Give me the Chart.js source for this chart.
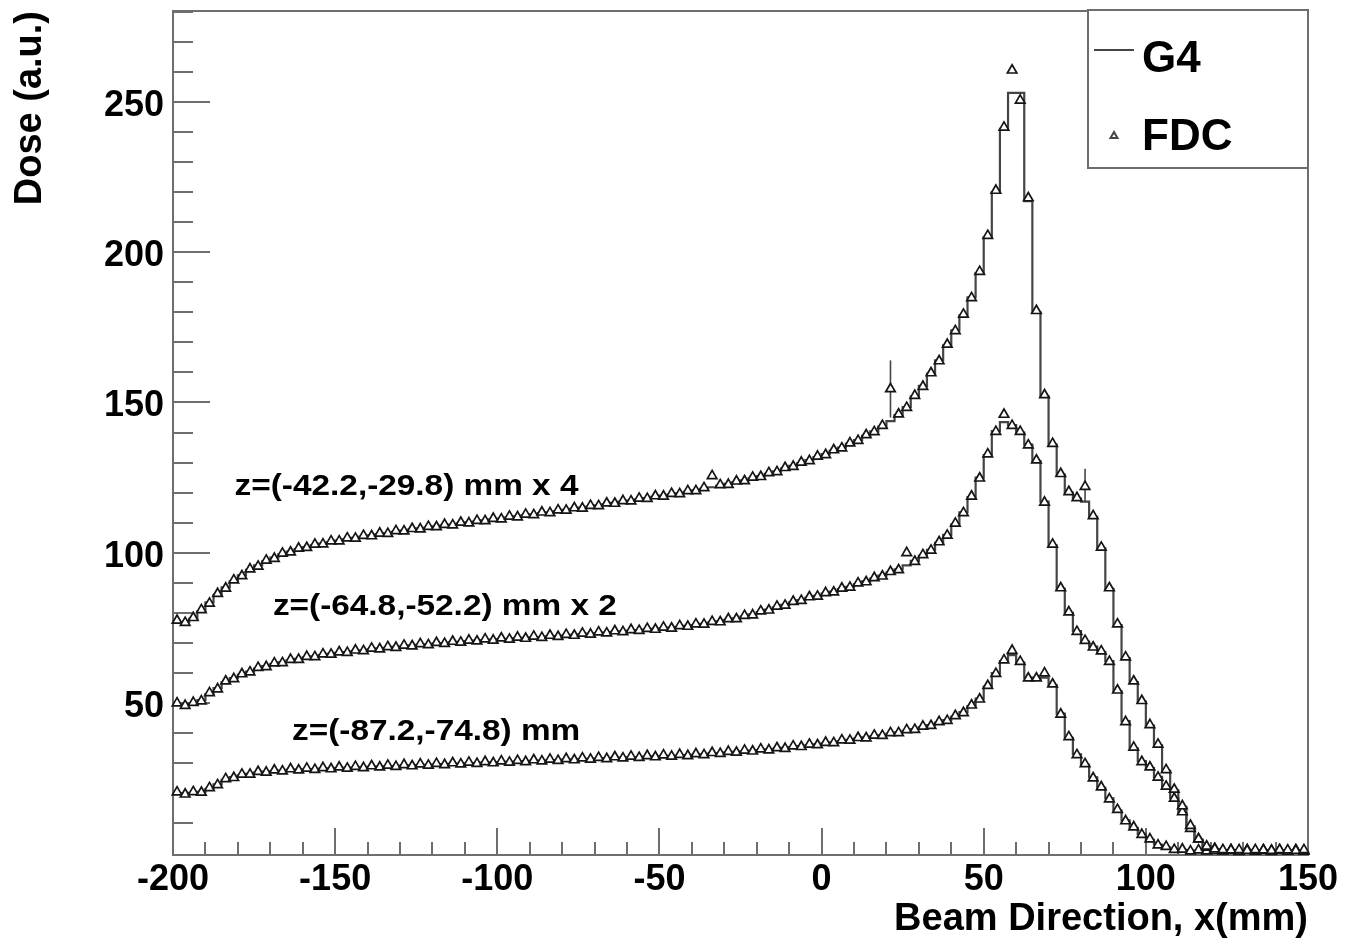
<!DOCTYPE html>
<html>
<head>
<meta charset="utf-8">
<title>Dose vs beam direction</title>
<script src="https://cdn.jsdelivr.net/npm/chart.js@4.4.0/dist/chart.umd.min.js"></script>
<style>
  html, body { margin: 0; padding: 0; background: #fff; }
  #wrap { width: 1358px; height: 946px; }
</style>
</head>
<body>
<div id="wrap"><canvas id="dose-chart" width="1358" height="946"></canvas></div>
<script>
(function () {
  'use strict';

  // histogram binning: 140 bins of 2.5 mm from -200 to 150
  var BIN_LO = -200;
  var BIN_W = 2.5;

  var xTickValues = [-200, -150, -100, -50, 0, 50, 100, 150];
  var yTickValues = [50, 100, 150, 200, 250];

  // z=(-42.2,-29.8) mm, scaled x4
  var g4Top = [
    77, 77, 78, 80.5, 83.5, 86, 88.5, 90.5, 92.5, 94.3,
    95.8, 97.2, 98.4, 99.5, 100.4, 101.2, 101.9, 102.5, 103.1, 103.6,
    104.1, 104.6, 105, 105.4, 105.8, 106.2, 106.6, 107, 107.4, 107.7,
    108.1, 108.4, 108.8, 109.1, 109.4, 109.8, 110.1, 110.4, 110.8, 111.1,
    111.4, 111.8, 112.1, 112.5, 112.8, 113.2, 113.5, 113.9, 114.3, 114.6,
    115, 115.4, 115.8, 116.2, 116.6, 117, 117.4, 117.8, 118.2, 118.6,
    119, 119.4, 119.8, 120.3, 120.8, 121.3, 121.8, 122.3, 122.9, 123.5,
    124.1, 124.8, 125.5, 126.3, 127.1, 128, 128.9, 129.8, 130.8, 131.8,
    132.8, 133.9, 135, 136.2, 137.5, 138.9, 140.4, 142, 143.8, 145.8,
    148.5, 152, 155.5, 159.5, 164, 169, 174, 179, 185, 193,
    205, 220, 241, 253, 253, 217, 180, 152, 136, 126,
    120, 118, 117, 112, 101.5, 88, 76, 65, 57, 50.5,
    42.5, 36, 27.5, 21, 15.5, 9, 4.5, 2.2, 1.3, 1,
    0.9, 1, 0.8, 1, 0.9, 0.8, 1, 0.9, 0.8, 1
  ];
  var fdcTop = [
    77.5, 76.8, 78.4, 81, 83.2, 86.4, 88.2, 90.9, 92.3, 94.6,
    95.5, 97.5, 98.1, 99.8, 100.2, 101.5, 101.7, 102.8, 102.9, 103.9,
    103.9, 104.9, 104.8, 105.7, 105.6, 106.5, 106.4, 107.3, 107.2, 108,
    107.9, 108.7, 108.6, 109.4, 109.2, 110.1, 109.9, 110.7, 110.6, 111.4,
    111.2, 112.1, 111.9, 112.8, 112.6, 113.5, 113.3, 114.2, 114.1, 114.9,
    114.8, 115.7, 115.6, 116.5, 116.4, 117.3, 117.2, 118.1, 118, 118.9,
    118.8, 119.7, 119.6, 120.6, 120.6, 121.6, 125.6, 122.6, 122.7, 123.8,
    123.9, 125.1, 125.3, 126.6, 126.9, 128.3, 128.7, 130.1, 130.6, 132.1,
    132.6, 134.2, 134.8, 136.5, 137.3, 139.2, 140.2, 142.3, 154.5, 146.1,
    148.3, 152.3, 155.3, 159.8, 163.8, 169.3, 173.8, 179.3, 184.8, 193.5,
    205.5, 220.5, 241.5, 260.5, 250.5, 218, 180.5, 152.5, 136.3, 126.3,
    120.3, 118.3, 122, 112.3, 101.8, 88.3, 76.3, 65.3, 57.3, 50.8,
    42.8, 36.3, 27.8, 21.3, 15.8, 9.3, 4.8, 2.4, 1.5, 1.2,
    1.1, 1.2, 1, 1.2, 1.1, 1, 1.2, 1.1, 1, 1.2
  ];

  // z=(-64.8,-52.2) mm, scaled x2
  var g4Mid = [
    49.5, 49.5, 49.8, 51, 53, 55, 57, 58.3, 59.4, 60.5,
    61.5, 62.3, 63, 63.6, 64.2, 64.7, 65.2, 65.6, 66, 66.4,
    66.7, 67, 67.3, 67.6, 67.9, 68.2, 68.4, 68.7, 68.9, 69.2,
    69.4, 69.6, 69.8, 70, 70.2, 70.4, 70.6, 70.8, 71, 71.1,
    71.3, 71.4, 71.6, 71.7, 71.9, 72, 72.2, 72.3, 72.5, 72.7,
    72.9, 73.1, 73.3, 73.5, 73.7, 73.9, 74.1, 74.3, 74.5, 74.7,
    74.9, 75.1, 75.4, 75.7, 76, 76.4, 76.8, 77.2, 77.7, 78.2,
    78.8, 79.5, 80.3, 81.1, 81.9, 82.7, 83.5, 84.3, 85, 85.7,
    86.4, 87.1, 87.9, 88.7, 89.6, 90.5, 91.4, 92.4, 93.4, 94.5,
    95.8, 97.3, 99, 101, 103.3, 106, 109.5, 113.5, 118.5, 125,
    132.5, 140.5, 143.5, 142.5, 140, 136, 130.5, 117, 102.5, 88,
    80, 74, 70.5, 68.8, 67, 64, 54, 44, 35, 30.7,
    28.4, 25.5, 22, 18.5, 13.5, 8.5, 4.5, 2.2, 1.4, 1,
    1, 0.8, 0.9, 1, 0.8, 1, 0.9, 0.8, 1, 0.9
  ];
  var fdcMid = [
    50, 49.2, 50.2, 50.7, 53.4, 54.7, 57.3, 58.1, 59.7, 60.3,
    61.8, 62.1, 63.3, 63.4, 64.5, 64.5, 65.5, 65.4, 66.3, 66.2,
    67, 66.8, 67.6, 67.4, 68.2, 68, 68.7, 68.5, 69.2, 69,
    69.7, 69.4, 70.1, 69.8, 70.5, 70.2, 70.9, 70.6, 71.3, 70.9,
    71.6, 71.2, 71.9, 71.5, 72.2, 71.8, 72.5, 72.1, 72.8, 72.5,
    73.2, 72.9, 73.6, 73.3, 74, 73.7, 74.4, 74.1, 74.8, 74.5,
    75.2, 74.9, 75.7, 75.5, 76.3, 76.2, 77.1, 77, 78, 78,
    79.1, 79.3, 80.6, 80.9, 82.2, 82.5, 83.8, 84.1, 85.3, 85.5,
    86.7, 86.9, 88.2, 88.5, 89.9, 90.3, 91.7, 92.2, 93.7, 94.3,
    100, 97.1, 99.3, 100.8, 103.6, 105.8, 109.8, 113.3, 118.8, 124.8,
    132.8, 140.3, 146, 142.3, 140.3, 135.8, 130.8, 116.8, 102.8, 88.3,
    80.3, 73.8, 70.8, 68.6, 67.3, 63.8, 54.3, 43.8, 35.3, 30.5,
    28.7, 25.3, 22.3, 18.3, 13.8, 8.3, 4.8, 2, 1.6, 0.9,
    1.2, 0.7, 1.1, 0.9, 1, 0.9, 1.1, 0.7, 1.2, 0.8
  ];

  // z=(-87.2,-74.8) mm
  var g4Bot = [
    20, 20, 20.2, 20.5, 21.5, 23, 24.5, 25.4, 26, 26.5,
    26.9, 27.2, 27.4, 27.6, 27.8, 27.9, 28, 28.1, 28.2, 28.3,
    28.4, 28.5, 28.6, 28.7, 28.8, 28.9, 29, 29.1, 29.2, 29.3,
    29.4, 29.5, 29.6, 29.7, 29.8, 29.9, 30, 30.1, 30.2, 30.3,
    30.4, 30.5, 30.6, 30.7, 30.8, 30.9, 31, 31.1, 31.2, 31.3,
    31.4, 31.5, 31.6, 31.7, 31.8, 31.9, 32, 32.1, 32.2, 32.3,
    32.4, 32.5, 32.6, 32.7, 32.8, 33, 33.2, 33.4, 33.6, 33.8,
    34, 34.2, 34.4, 34.6, 34.8, 35.1, 35.4, 35.7, 36, 36.3,
    36.6, 37, 37.4, 37.8, 38.2, 38.6, 39, 39.4, 39.8, 40.3,
    40.8, 41.4, 42, 42.7, 43.5, 44.4, 45.5, 47, 49, 51.5,
    55.5, 60, 64, 66, 63.5, 58.5, 58, 58.5, 56, 46.5,
    38.5, 33, 29.5, 25.3, 21.8, 18.3, 14.3, 11, 8.5, 6.5,
    4.5, 3, 2, 1.5, 1.2, 1, 0.9, 1, 0.8, 1,
    0.9, 0.8, 1, 0.9, 1, 0.8, 0.9, 1, 0.8, 0.9
  ];
  var fdcBot = [
    20.4, 19.7, 20.5, 20.3, 21.8, 22.8, 24.8, 25.2, 26.3, 26.3,
    27.2, 27, 27.7, 27.4, 28.1, 27.7, 28.3, 27.9, 28.5, 28.1,
    28.7, 28.3, 28.9, 28.5, 29.1, 28.7, 29.3, 28.9, 29.5, 29.1,
    29.7, 29.3, 29.9, 29.5, 30.1, 29.7, 30.3, 29.9, 30.5, 30.1,
    30.7, 30.3, 30.9, 30.5, 31.1, 30.7, 31.3, 30.9, 31.5, 31.1,
    31.7, 31.3, 31.9, 31.5, 32.1, 31.7, 32.3, 31.9, 32.5, 32.1,
    32.7, 32.3, 32.9, 32.5, 33.1, 32.8, 33.5, 33.2, 33.9, 33.6,
    34.3, 34, 34.7, 34.4, 35.1, 34.9, 35.7, 35.5, 36.3, 36.1,
    36.9, 36.8, 37.7, 37.6, 38.5, 38.4, 39.3, 39.2, 40.1, 40.1,
    41.1, 41.2, 42.3, 42.5, 43.8, 44.2, 45.8, 46.8, 49.3, 51.3,
    55.8, 59.8, 64.3, 67.5, 63.8, 58.3, 58.3, 60, 56.3, 46.3,
    38.8, 32.8, 29.8, 25.1, 22.1, 18.1, 14.6, 10.8, 8.8, 6.3,
    4.8, 2.8, 2.3, 1.3, 1.4, 0.8, 1.1, 0.8, 1, 0.8,
    1.1, 0.6, 1.2, 0.7, 1.2, 0.6, 1.1, 0.8, 1, 0.7
  ];

  // FDC points with a visible error bar
  var errX = [21.25, 81.25];
  var errLo = [145, 117];
  var errHi = [164, 128];

  var curveLabels = ['z=(-42.2,-29.8) mm x 4', 'z=(-64.8,-52.2) mm x 2', 'z=(-87.2,-74.8) mm'];
  var curveLabelAt = [[-181, 119.2], [-169.2, 79.3], [-163.3, 37.7]];

  var FONT = "'Liberation Sans', Arial, Helvetica, sans-serif";
  var LINE_GREY = '#454545';
  var FRAME_GREY = '#6e6e6e';

  function edgePoints(vals) {
    var pts = vals.map(function (v, i) { return { x: BIN_LO + i * BIN_W, y: v }; });
    pts.push({ x: BIN_LO + vals.length * BIN_W, y: vals[vals.length - 1] });
    return pts;
  }

  function centerPoints(vals) {
    return vals.map(function (v, i) { return { x: BIN_LO + (i + 0.5) * BIN_W, y: v }; });
  }

  function g4Set(vals) {
    return {
      data: edgePoints(vals), order: 2, stepped: 'before',
      borderColor: LINE_GREY, borderWidth: 2.2, pointRadius: 0, fill: false
    };
  }

  function fdcSet(vals) {
    return {
      data: centerPoints(vals), order: 0, showLine: false, clip: false,
      pointStyle: 'triangle', pointRadius: 5.5, borderWidth: 1.7,
      pointBorderColor: '#151515', pointBackgroundColor: '#ffffff'
    };
  }

  var datasets = [fdcSet(fdcTop), fdcSet(fdcMid), fdcSet(fdcBot)];
  errX.forEach(function (x, i) {
    datasets.push({
      data: [{ x: x, y: errLo[i] }, { x: x, y: errHi[i] }], order: 1,
      borderColor: LINE_GREY, borderWidth: 1.6, pointRadius: 0, fill: false
    });
  });
  datasets.push(g4Set(g4Top), g4Set(g4Mid), g4Set(g4Bot));

  // ROOT style frame: box, inward ticks, legend and curve labels
  var rootFrame = {
    id: 'rootFrame',
    beforeDatasetsDraw: function (chart) {
      var ctx = chart.ctx, a = chart.chartArea;
      var xs = chart.scales.x, ys = chart.scales.y;
      ctx.save();
      ctx.strokeStyle = FRAME_GREY;
      ctx.lineWidth = 2;
      ctx.strokeRect(a.left, a.top, a.right - a.left, a.bottom - a.top);
      ctx.beginPath();
      for (var v = xs.min; v <= xs.max; v += 10) {
        var px = Math.round(xs.getPixelForValue(v));
        var len = v % 50 === 0 ? 27 : 13;
        ctx.moveTo(px, a.bottom);
        ctx.lineTo(px, a.bottom - len);
      }
      for (var w = 10; w < ys.max; w += 10) {
        var py = Math.round(ys.getPixelForValue(w));
        var l = w % 50 === 0 ? 37 : 20;
        ctx.moveTo(a.left, py);
        ctx.lineTo(a.left + l, py);
      }
      ctx.stroke();

      ctx.fillStyle = '#000';
      ctx.textBaseline = 'alphabetic';
      ctx.textAlign = 'left';
      curveLabels.forEach(function (txt, i) {
        ctx.save();
        ctx.translate(xs.getPixelForValue(curveLabelAt[i][0]), ys.getPixelForValue(curveLabelAt[i][1]));
        ctx.scale(1.15, 1);
        ctx.font = 'bold 29px ' + FONT;
        ctx.fillText(txt, 0, 0);
        ctx.restore();
      });
      ctx.restore();
    },
    afterDraw: function (chart) {
      var ctx = chart.ctx, a = chart.chartArea;
      var x0 = a.right - 220, y0 = a.top - 1;
      ctx.save();
      ctx.fillStyle = '#fff';
      ctx.fillRect(x0, y0, 220, 158);
      ctx.strokeStyle = FRAME_GREY;
      ctx.lineWidth = 2;
      ctx.strokeRect(x0, y0, 220, 158);

      ctx.strokeStyle = LINE_GREY;
      ctx.beginPath();
      ctx.moveTo(x0 + 6, y0 + 40);
      ctx.lineTo(x0 + 46, y0 + 40);
      ctx.stroke();

      Chart.helpers.drawPoint(ctx, {
        pointStyle: 'triangle', radius: 4, borderWidth: 1.3
      }, x0 + 26, y0 + 126);

      ctx.fillStyle = '#000';
      ctx.font = 'bold 44px ' + FONT;
      ctx.textAlign = 'left';
      ctx.textBaseline = 'alphabetic';
      ctx.fillText('G4', x0 + 54, y0 + 62);
      ctx.fillText('FDC', x0 + 54, y0 + 140);
      ctx.restore();
    }
  };

  var tickFont = { family: FONT, size: 36, weight: 'bold' };
  var titleFont = { family: FONT, size: 38, weight: 'bold', lineHeight: 1 };

  new Chart(document.getElementById('dose-chart').getContext('2d'), {
    type: 'line',
    data: { datasets: datasets },
    options: {
      responsive: false,
      animation: false,
      devicePixelRatio: 1,
      layout: { padding: { top: 11, right: 50, bottom: 0, left: 0 } },
      plugins: { legend: { display: false }, tooltip: { enabled: false } },
      elements: { line: { tension: 0 } },
      scales: {
        x: {
          type: 'linear', min: -200, max: 150,
          grid: { display: false, drawTicks: false },
          border: { display: false },
          afterBuildTicks: function (s) { s.ticks = xTickValues.map(function (v) { return { value: v }; }); },
          afterFit: function (s) { s.height = 91; s.paddingLeft = 0; s.paddingRight = 0; },
          ticks: { color: '#000', font: tickFont, padding: 3, maxRotation: 0, autoSkip: false },
          title: {
            display: true, text: 'Beam Direction, x(mm)', align: 'end', color: '#000',
            font: titleFont, padding: { top: 0, bottom: 7 }
          }
        },
        y: {
          type: 'linear', min: -0.5, max: 280.2,
          grid: { display: false, drawTicks: false },
          border: { display: false },
          afterBuildTicks: function (s) { s.ticks = yTickValues.map(function (v) { return { value: v }; }); },
          afterFit: function (s) { s.width = 173; s.paddingTop = 0; s.paddingBottom = 0; },
          ticks: { color: '#000', font: tickFont, padding: 9, labelOffset: 4, autoSkip: false },
          title: {
            display: true, text: 'Dose (a.u.)', align: 'end', color: '#000',
            font: titleFont, padding: { top: 12, bottom: 0 }
          }
        }
      }
    },
    plugins: [rootFrame]
  });
})();
</script>
</body>
</html>
